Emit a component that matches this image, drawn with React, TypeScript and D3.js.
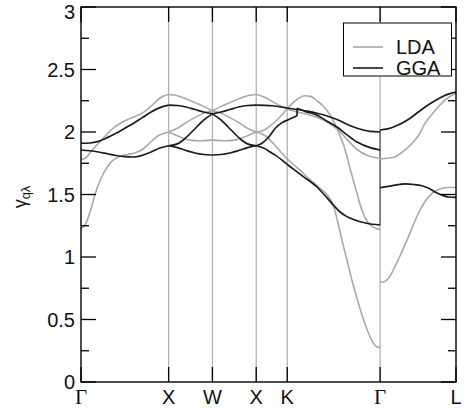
import React from "react";
import * as d3 from "d3";

// High-symmetry points along the path (k in units of 2π/a)
const symLabels = ["Γ", "X", "W", "X", "K", "Γ", "L"];
const symK = [0, 1, 1.5, 2, 2.354, 3.414, 4.28];
// points where branches have kinks (X-K-Γ is one straight line in k-space)
const kinkK = [0, 1, 1.5, 2, 3.414, 4.28];

const yMajorTicks = [0, 0.5, 1, 1.5, 2, 2.5, 3];
const yTickLabels = ["0", "0.5", "1", "1.5", "2", "2.5", "3"];
const yMinorTicks = [0.25, 0.75, 1.25, 1.75, 2.25, 2.75];

// LDA branches (Γ-X-W-X-K-Γ)
const lda1: [number, number][] = [
  [0, 1.78], [0.05, 1.79], [0.12, 1.85], [0.2, 1.91], [0.28, 1.97], [0.35, 2.02], [0.45, 2.07],
  [0.55, 2.105], [0.65, 2.135], [0.73, 2.165], [0.82, 2.22], [0.9, 2.27], [0.95, 2.29], [1, 2.3],
  [1.1, 2.29], [1.2, 2.265], [1.3, 2.235], [1.4, 2.205], [1.5, 2.17],
  [1.6, 2.205], [1.7, 2.235], [1.8, 2.265], [1.9, 2.29], [2, 2.3],
  [2.09, 2.28], [2.18, 2.245], [2.26, 2.215], [2.332, 2.19], [2.443, 2.165], [2.637, 2.13],
  [2.751, 2.1], [2.877, 2.05], [2.96, 2.0], [3.037, 1.94], [3.151, 1.86], [3.276, 1.81], [3.414, 1.79],
];
const lda2: [number, number][] = [
  [0, 1.23], [0.03, 1.24], [0.08, 1.31], [0.12, 1.4], [0.16, 1.5], [0.2, 1.58], [0.25, 1.66],
  [0.3, 1.72], [0.35, 1.765], [0.4, 1.79], [0.46, 1.81], [0.53, 1.82], [0.6, 1.83], [0.7, 1.86],
  [0.78, 1.91], [0.88, 1.97], [0.95, 1.99], [1, 2.0],
  [1.1, 2.03], [1.2, 2.075], [1.3, 2.115], [1.4, 2.15], [1.5, 2.17],
  [1.6, 2.15], [1.7, 2.115], [1.8, 2.075], [1.9, 2.03], [2, 2.0],
  [2.104, 2.02], [2.18, 2.06], [2.257, 2.11], [2.371, 2.2], [2.485, 2.27], [2.557, 2.29],
  [2.62, 2.285], [2.694, 2.25], [2.76, 2.21], [2.831, 2.15], [2.9, 2.06], [2.957, 1.97],
  [3.0, 1.89], [3.037, 1.8], [3.07, 1.71], [3.105, 1.62], [3.15, 1.51], [3.185, 1.42],
  [3.22, 1.35], [3.253, 1.3], [3.29, 1.265], [3.322, 1.245], [3.379, 1.225], [3.414, 1.22],
];
const lda3: [number, number][] = [
  [1, 2.0], [1.1, 1.97], [1.17, 1.95], [1.25, 1.935], [1.35, 1.93], [1.5, 1.935],
  [1.65, 1.93], [1.75, 1.935], [1.83, 1.95], [1.9, 1.97], [2, 2.0],
  [2.104, 1.97], [2.218, 1.89], [2.332, 1.8], [2.409, 1.75], [2.5, 1.695], [2.58, 1.64],
  [2.728, 1.55], [2.808, 1.5], [2.877, 1.42], [2.934, 1.27], [2.991, 1.1], [3.048, 0.94],
  [3.105, 0.78], [3.162, 0.64], [3.219, 0.51], [3.276, 0.4], [3.333, 0.315], [3.379, 0.28], [3.414, 0.275],
];
// LDA branches (Γ-L)
const ldaL1: [number, number][] = [
  [3.414, 1.784], [3.5, 1.79], [3.584, 1.8], [3.65, 1.83], [3.736, 1.88], [3.85, 1.97],
  [3.927, 2.07], [4.04, 2.17], [4.117, 2.23], [4.2, 2.28], [4.28, 2.31],
];
const ldaL2: [number, number][] = [
  [3.414, 0.8], [3.45, 0.8], [3.508, 0.83], [3.56, 0.89], [3.622, 0.98], [3.736, 1.16],
  [3.851, 1.35], [3.965, 1.48], [4.079, 1.54], [4.193, 1.556], [4.28, 1.556],
];

// GGA branches (Γ-X-W-X-K-Γ)
const gga1: [number, number][] = [
  [0, 1.91], [0.1, 1.912], [0.2, 1.925], [0.3, 1.955], [0.4, 1.99], [0.5, 2.03], [0.6, 2.07],
  [0.7, 2.115], [0.8, 2.16], [0.9, 2.195], [1, 2.215],
  [1.1, 2.212], [1.2, 2.2], [1.3, 2.18], [1.4, 2.16], [1.5, 2.145],
  [1.6, 2.16], [1.7, 2.18], [1.8, 2.2], [1.9, 2.212], [2, 2.215],
  [2.18, 2.21], [2.37, 2.19], [2.47, 2.18], [2.6, 2.165], [2.694, 2.15], [2.8, 2.13],
  [2.922, 2.1], [3.04, 2.06], [3.151, 2.03], [3.3, 2.005], [3.414, 2.0],
];
const gga2: [number, number][] = [
  [0, 1.856], [0.1, 1.85], [0.2, 1.84], [0.3, 1.826], [0.4, 1.812], [0.5, 1.803], [0.6, 1.8],
  [0.7, 1.813], [0.8, 1.84], [0.9, 1.872], [1, 1.89],
  [1.1, 1.905], [1.168, 1.936], [1.25, 1.99], [1.32, 2.04], [1.4, 2.095], [1.5, 2.145],
  [1.6, 2.095], [1.68, 2.04], [1.75, 1.99], [1.832, 1.936], [1.9, 1.905], [2, 1.89],
  [2.066, 1.91], [2.143, 1.96], [2.218, 2.03], [2.295, 2.075], [2.371, 2.1], [2.466, 2.13],
];
const gga2Jump: [number, number][] = [[2.466, 2.13], [2.466, 2.19]];
const gga2b: [number, number][] = [
  [2.466, 2.19], [2.557, 2.165], [2.694, 2.135], [2.8, 2.09], [2.922, 2.04], [3.04, 1.975],
  [3.151, 1.92], [3.3, 1.875], [3.414, 1.856],
];
const gga3: [number, number][] = [
  [1, 1.89], [1.1, 1.875], [1.2, 1.852], [1.3, 1.832], [1.4, 1.82], [1.5, 1.816],
  [1.6, 1.82], [1.7, 1.832], [1.8, 1.852], [1.9, 1.875], [2, 1.89],
  [2.104, 1.865], [2.158, 1.84], [2.218, 1.815], [2.374, 1.73], [2.534, 1.645], [2.694, 1.56],
  [2.8, 1.48], [2.88, 1.415], [2.957, 1.36], [3.03, 1.325], [3.11, 1.3], [3.26, 1.27], [3.414, 1.256],
];
// GGA branches (Γ-L)
const ggaL1: [number, number][] = [
  [3.414, 2.016], [3.5, 2.025], [3.6, 2.05], [3.736, 2.1], [3.85, 2.16], [3.927, 2.2],
  [4.04, 2.25], [4.117, 2.28], [4.2, 2.305], [4.28, 2.32],
];
const ggaL2: [number, number][] = [
  [3.414, 1.555], [3.508, 1.565], [3.584, 1.575], [3.7, 1.585], [3.8, 1.58], [3.889, 1.57],
  [3.97, 1.55], [4.041, 1.52], [4.12, 1.495], [4.193, 1.48], [4.28, 1.477],
];
// connector at Γ
const gammaConnector: [number, number][] = [[3.414, 1.256], [3.414, 2.016]];

const ldaBranches = [lda1, lda2, lda3, ldaL1, ldaL2];
const ggaBranches = [gga1, gga2, gga2b, gga3, ggaL1, ggaL2];

const legendLabels = ["LDA", "GGA"];

const LDA_COLOR = "#a9a9a9";
const GGA_COLOR = "#1c1c1c";

const W = 465;
const H = 411;
const L = 81;
const R = 456;
const T = 7;
const B = 382;

function splitSegments(pts: [number, number][]) {
  const segs: [number, number][][] = [];
  for (let i = 0; i < kinkK.length - 1; i++) {
    const a = kinkK[i] - 1e-6;
    const b = kinkK[i + 1] + 1e-6;
    const s = pts.filter((p) => p[0] >= a && p[0] <= b);
    if (s.length >= 2) segs.push(s);
  }
  return segs;
}

export default function App() {
  const x = d3.scaleLinear().domain([0, symK[symK.length - 1]]).range([L, R]);
  const y = d3.scaleLinear().domain([0, 3]).range([B, T]);
  const line = d3
    .line<[number, number]>()
    .x((d) => x(d[0]))
    .y((d) => y(d[1]))
    .curve(d3.curveMonotoneX);
  const straight = d3
    .line<[number, number]>()
    .x((d) => x(d[0]))
    .y((d) => y(d[1]));

  const sans = "'Liberation Sans', Arial, Helvetica, sans-serif";
  const serif = "'Liberation Serif', 'Times New Roman', serif";

  const legX = 343.5;
  const legY = 23;
  const legRows = [47, 68];

  return (
    <svg
      width={W}
      height={H}
      style={{ position: "absolute", left: 0, top: 0, background: "#fff" }}
    >
      <rect x={0} y={0} width={W} height={H} fill="#fff" />
      {/* vertical lines at symmetry points */}
      {symK.slice(1, -1).map((k, i) => (
        <line key={"v" + i} x1={x(k)} x2={x(k)} y1={T} y2={B} stroke="#b3b3b3" strokeWidth={1.3} />
      ))}
      <path d={straight(gammaConnector) || ""} stroke="#7a7a7a" strokeWidth={1.8} fill="none" />
      {/* LDA */}
      {ldaBranches.map((br, bi) =>
        splitSegments(br).map((s, si) => (
          <path key={`l${bi}-${si}`} d={line(s) || ""} fill="none" stroke={LDA_COLOR} strokeWidth={1.6} />
        ))
      )}
      {/* GGA */}
      {ggaBranches.map((br, bi) =>
        splitSegments(br).map((s, si) => (
          <path key={`g${bi}-${si}`} d={line(s) || ""} fill="none" stroke={GGA_COLOR} strokeWidth={1.7} />
        ))
      )}
      <path d={straight(gga2Jump) || ""} fill="none" stroke={GGA_COLOR} strokeWidth={1.7} />

      {/* frame */}
      <rect x={L} y={T} width={R - L} height={B - T} fill="none" stroke="#000" strokeWidth={1.4} />

      {/* y ticks */}
      {yMajorTicks.map((v, i) => (
        <g key={"ym" + i}>
          <line x1={L} x2={L + 15} y1={y(v)} y2={y(v)} stroke="#000" strokeWidth={1.3} />
          <line x1={R - 15} x2={R} y1={y(v)} y2={y(v)} stroke="#000" strokeWidth={1.3} />
          <text
            x={75}
            y={Math.max(y(v) + 7.2, 18.5)}
            textAnchor="end"
            fontFamily={sans}
            fontSize={20}
            fill="#111"
          >
            {yTickLabels[i]}
          </text>
        </g>
      ))}
      {yMinorTicks.map((v, i) => (
        <g key={"yn" + i}>
          <line x1={L} x2={L + 8} y1={y(v)} y2={y(v)} stroke="#000" strokeWidth={1.3} />
          <line x1={R - 8} x2={R} y1={y(v)} y2={y(v)} stroke="#000" strokeWidth={1.3} />
        </g>
      ))}

      {/* x ticks & labels */}
      {symK.map((k, i) => (
        <g key={"x" + i}>
          <line x1={x(k)} x2={x(k)} y1={B} y2={B - 15} stroke="#000" strokeWidth={1.3} />
          <line x1={x(k)} x2={x(k)} y1={T} y2={T + 15} stroke="#000" strokeWidth={1.3} />
          <text
            x={x(k)}
            y={404}
            textAnchor="middle"
            fontFamily={symLabels[i] === "Γ" ? serif : sans}
            fontSize={symLabels[i] === "Γ" ? 21 : 20}
            fill="#111"
          >
            {symLabels[i]}
          </text>
        </g>
      ))}

      {/* y axis label */}
      <text
        transform="translate(26,197) rotate(-90)"
        textAnchor="middle"
        fontFamily={sans}
        fontSize={18}
        fill="#111"
      >
        γ
        <tspan fontSize={13} dy={4}>
          qλ
        </tspan>
      </text>

      {/* legend */}
      <rect x={legX} y={legY} width={108} height={53} fill="#fff" stroke="#000" strokeWidth={1} />
      {legendLabels.map((lab, i) => (
        <g key={"lg" + i}>
          <line
            x1={353}
            x2={383}
            y1={legRows[i]}
            y2={legRows[i]}
            stroke={i === 0 ? LDA_COLOR : GGA_COLOR}
            strokeWidth={1.6}
          />
          <text x={396} y={legRows[i] + 7} fontFamily={sans} fontSize={20} fill="#111">
            {lab}
          </text>
        </g>
      ))}
    </svg>
  );
}
